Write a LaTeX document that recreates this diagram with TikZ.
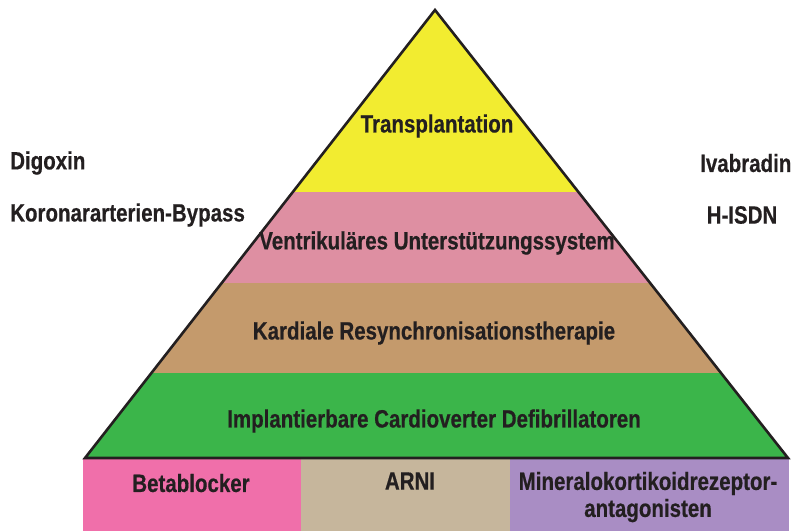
\documentclass[tikz,border=0pt]{standalone}
\usepackage{fontspec}
\setmainfont{Liberation Sans}[FakeStretch=0.82, BoldFeatures={FakeBold=0.5}]
\begin{document}
\begin{tikzpicture}[x=1pt,y=-1pt,
  lbl/.style={font=\bfseries\fontsize{25}{27}\selectfont, text=txt, inner sep=0pt},
  side/.style={lbl, anchor=west}]
\definecolor{txt}{HTML}{231F20}
\definecolor{cyel}{HTML}{F2EC30}
\definecolor{cpink}{HTML}{DE8FA2}
\definecolor{ctan}{HTML}{C49A6C}
\definecolor{cgreen}{HTML}{3BB54A}
\definecolor{bpink}{HTML}{F06FAA}
\definecolor{bbeige}{HTML}{C6B69C}
\definecolor{bpurple}{HTML}{A98DC4}
\useasboundingbox (0,0) rectangle (799,531);
\coordinate (apex) at (435,10);
\coordinate (L) at (85,458);
\coordinate (R) at (788,458);
% bottom boxes
\fill[bpink] (83,459) rectangle (301,531);
\fill[bbeige] (301,459) rectangle (510,531);
\fill[bpurple] (510,459) rectangle (789,531);
% bands
\begin{scope}
\clip (apex) -- (L) -- (R) -- cycle;
\fill[cyel] (0,0) rectangle (799,191.5);
\fill[cpink] (0,191.5) rectangle (799,283);
\fill[ctan] (0,283) rectangle (799,373);
\fill[cgreen] (0,373) rectangle (799,458);
\end{scope}
\draw[txt, line width=2.6pt, line join=miter] (apex) -- (L) -- (R) -- cycle;
% labels
\node[lbl] (t1) at (437,126) {Transplantation};
\node[lbl] (t2) at (437,243) {Ventrikuläres Unterstützungssystem};
\node[lbl] (t3) at (434,333) {Kardiale Resynchronisationstherapie};
\node[lbl] (t4) at (434,421) {Implantierbare Cardioverter Defibrillatoren};
\node[lbl] (b1) at (191,483) {Betablocker};
\node[lbl] (b2) at (410,481) {ARNI};
\node[lbl, align=center] (b3) at (648,497) {Mineralokortikoidrezeptor-\\antagonisten};
\node[side] (s1) at (10,163) {Digoxin};
\node[side] (s2) at (10,215) {Koronararterien-Bypass};
\node[side] (s3) at (700,163) {Ivabradin};
\node[lbl] (s4) at (742,215) {H-ISDN};
\end{tikzpicture}
\end{document}
